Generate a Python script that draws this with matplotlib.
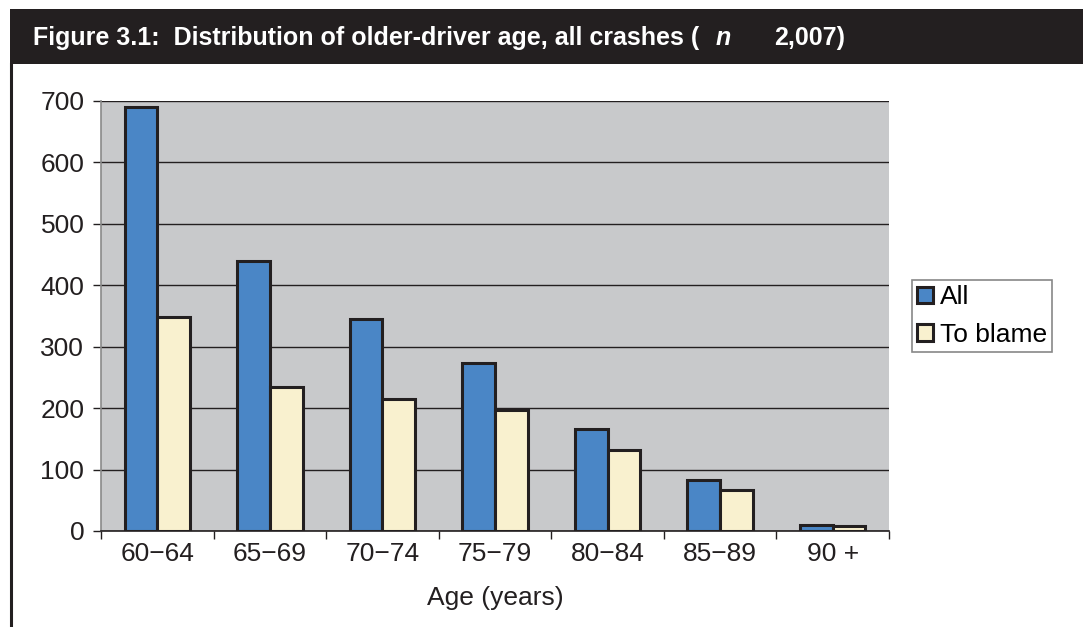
import matplotlib
matplotlib.use("Agg")
import matplotlib.pyplot as plt
import numpy as np
from matplotlib.patches import Rectangle
from matplotlib.lines import Line2D

categories = ["60\u221264", "65\u221269", "70\u221274", "75\u221279", "80\u221284", "85\u221289", "90 +"]
all_crashes = [690, 439, 345, 274, 166, 83, 10]
to_blame = [349, 234, 215, 197, 132, 67, 8]
yticks = [0, 100, 200, 300, 400, 500, 600, 700]

W, H = 1083, 627
fig = plt.figure(figsize=(W / 100, H / 100), dpi=100)
plt.rcParams['font.family'] = ['Liberation Sans', 'DejaVu Sans']
INK = "#231f20"
FS = 19

# title bar
fig.patches.append(Rectangle((10 / W, 1 - 64 / H), 1 - 10 / W, 55 / H, transform=fig.transFigure,
                             facecolor=INK, edgecolor="none"))
fig.lines.append(Line2D([11 / W, 11 / W], [0, 1 - 64 / H], transform=fig.transFigure,
                        color=INK, lw=2.2))
ty = 1 - 38 / H
fig.text(33 / W, ty, "Figure 3.1:  Distribution of older-driver age, all crashes (",
         color="white", fontsize=18, fontweight="bold", va="center", ha="left")
fig.text(716 / W, ty, "n", color="white", fontsize=18, fontweight="bold",
         fontstyle="italic", va="center", ha="left")
fig.text(774 / W, ty, "2,007)", color="white", fontsize=18, fontweight="bold",
         va="center", ha="left")

ax = fig.add_axes([101 / W, 1 - 531 / H, 788 / W, 430 / H])
ax.set_facecolor("#c8c9cb")
x = np.arange(len(categories))
bw = 0.29
ax.bar(x - bw / 2, all_crashes, bw, color="#4a86c6", edgecolor=INK, linewidth=2.2,
       label="All", zorder=3)
ax.bar(x + bw / 2, to_blame, bw, color="#f9f1cf", edgecolor=INK, linewidth=2.2,
       label="To blame", zorder=3)
ax.set_xlim(-0.5, len(categories) - 0.5)
ax.set_ylim(0, 700)
ax.set_yticks(yticks)
ax.set_yticklabels([str(v) for v in yticks], fontsize=FS, color=INK)
ax.yaxis.grid(True, color=INK, lw=1.0, zorder=1)
ax.set_axisbelow(True)
ax.set_xticks(np.arange(-0.5, len(categories), 1.0))
ax.set_xticklabels([])
ax.set_xticks(x, minor=True)
ax.set_xticklabels(categories, minor=True, fontsize=FS, color=INK)
ax.tick_params(axis="x", which="major", length=6, width=1, color=INK, direction="out")
ax.tick_params(axis="x", which="minor", length=0, pad=8)
ax.tick_params(axis="y", length=6, width=1, color=INK, pad=6)
for s in ["top", "right"]:
    ax.spines[s].set_visible(False)
ax.spines["left"].set_color("#8a8a8a")
ax.spines["left"].set_linewidth(1.2)
ax.spines["bottom"].set_color(INK)
ax.spines["bottom"].set_linewidth(1.2)
ax.set_xlabel("Age (years)", fontsize=FS, color=INK, labelpad=14)

leg = ax.legend(loc="center left", bbox_to_anchor=(811 / 788, (531 - 316) / 430),
                fontsize=FS, frameon=True, fancybox=False, edgecolor="#6a6a6a",
                handlelength=0.6, handleheight=0.6, handletextpad=0.25,
                borderpad=0.2, labelspacing=0.5, borderaxespad=0)
leg.get_frame().set_linewidth(1.2)

fig.savefig("out.png", dpi=100, facecolor="white")
